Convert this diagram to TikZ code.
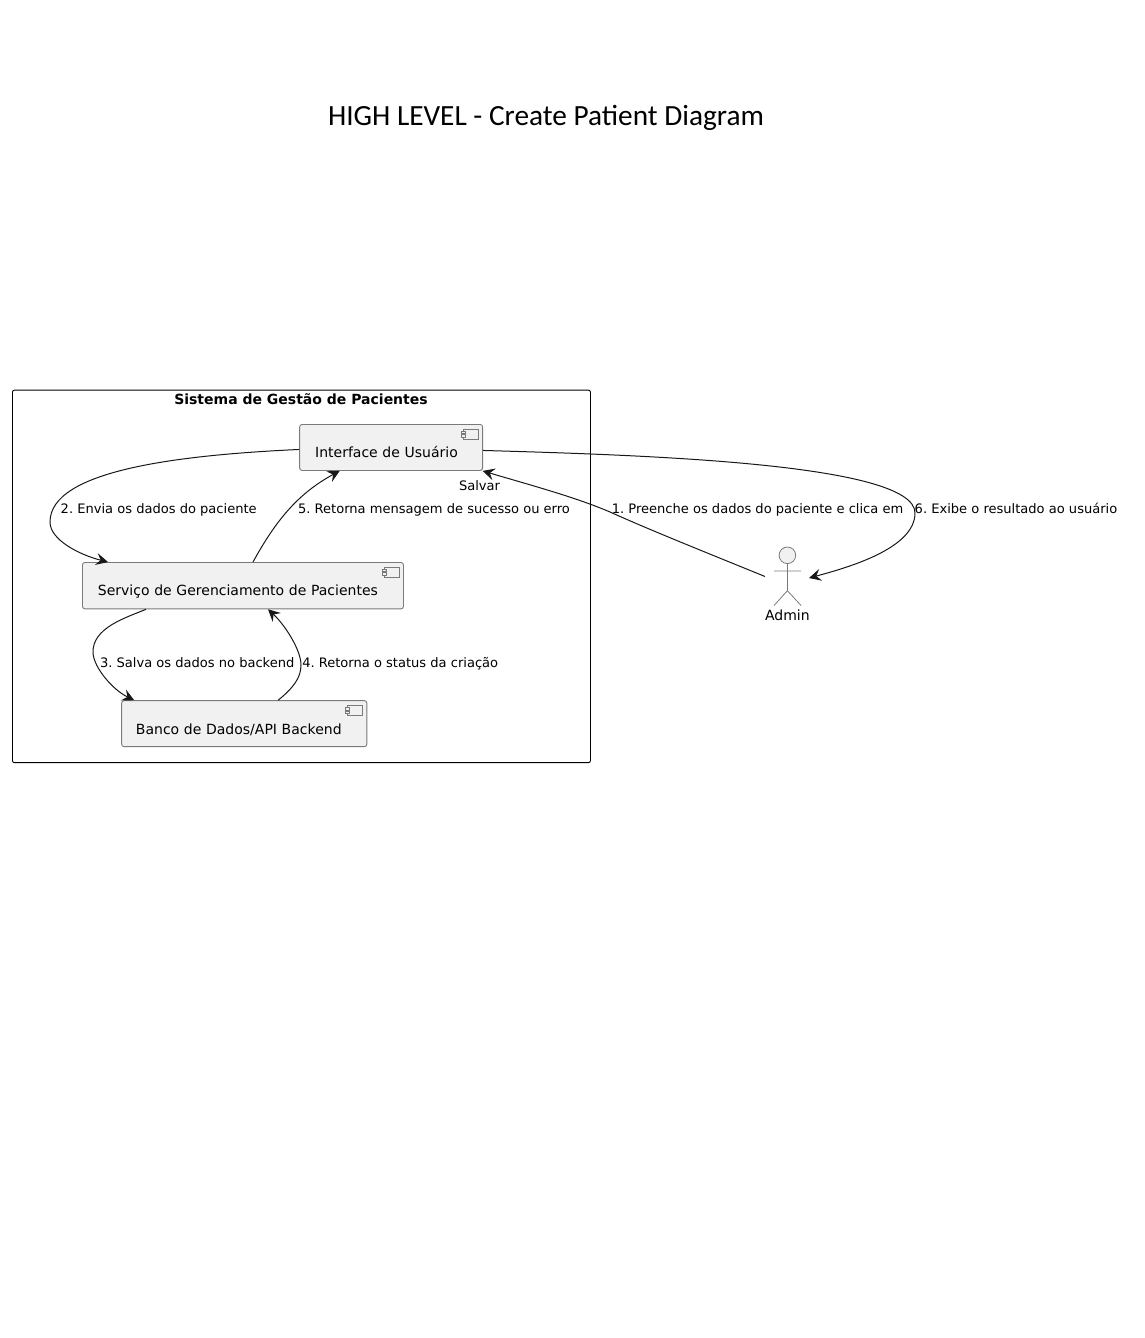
\documentclass[tikz,border=0pt]{standalone}
\usepackage{fontspec}
\setmainfont{DejaVu Sans}
\newfontfamily\titlefont{Carlito}
\usetikzlibrary{arrows.meta,calc,positioning}
\definecolor{umlfill}{HTML}{F1F1F1}
\definecolor{umlline}{HTML}{181818}
\definecolor{umlborder}{HTML}{7A7A7A}
\frenchspacing
\tikzset{
  comp/.style={draw=umlborder,fill=umlfill,line width=0.9pt,rounded corners=2.5pt,anchor=north west,
    inner xsep=15.5pt,inner ysep=0pt,align=left,font=\fontsize{14}{16}\selectfont,text=black,
    text height=26pt,text depth=6pt},
  flow/.style={draw=umlline,line width=1pt,-{Stealth[length=12pt,width=12pt,inset=4.5pt]}},
  lbl/.style={font=\fontsize{13.05}{15}\selectfont,text=black,inner sep=0pt,text height=10pt,text depth=3pt},
  iconline/.style={draw=umlborder,line width=0.8pt,fill=umlfill},
  actorline/.style={draw=umlborder,line width=0.8pt},
}
\newcommand{\compicon}[1]{%
  \draw[iconline] ($(#1.north east)+(-20,5)$) rectangle ($(#1.north east)+(-5,15)$);
  \draw[iconline] ($(#1.north east)+(-22,7.3)$) rectangle ($(#1.north east)+(-18,9.8)$);
  \draw[iconline] ($(#1.north east)+(-22,10.8)$) rectangle ($(#1.north east)+(-18,13.3)$);
}
\begin{document}
\begin{tikzpicture}[x=1pt,y=-1pt]
\useasboundingbox (0,0) rectangle (1144,1338);
\node[font=\titlefont\fontsize{29.3}{34}\selectfont,text=black,inner sep=0pt] (title) at (546,118) {HIGH LEVEL - Create Patient Diagram};
\node[draw=black,line width=0.9pt,rounded corners=2pt,anchor=north west,minimum width=578pt,minimum height=372.5pt,inner sep=0pt] (sys) at (12,389.7) {};
\node[font=\bfseries\fontsize{14}{16}\selectfont,text=black,inner sep=0pt] (systitle) at (301,399) {Sistema de Gestão de Pacientes};
\node[comp,text width=152pt,minimum height=46pt] (ui) at (299.2,424) {Interface de Usuário};
\node[comp,text width=290pt,minimum height=46.4pt] (svc) at (82,562) {Serviço de Gerenciamento de Pacientes};
\node[comp,text width=216.6pt,inner xsep=14.3pt,minimum height=46pt,text height=28pt,text depth=6pt] (db) at (121.2,700.2) {Banco de Dados/API Backend};
\compicon{ui}
\compicon{svc}
\compicon{db}
% actor
\node[inner sep=0pt,minimum width=44pt,minimum height=60pt,anchor=north west] (admin) at (765,547) {};
\draw[actorline,fill=umlfill] (787.4,555.3) circle (8.3);
\draw[actorline] (787.4,563.6) -- (787.4,590.7) (774,571) -- (801,571) (774,605.5) -- (787.4,590.7) -- (801,605.5);
\node[font=\fontsize{14}{16}\selectfont,text=black,inner sep=0pt] (adminlbl) at (787.4,615) {Admin};
% connectors
\draw[flow] ($(admin.north west)+(0,29.5)$) .. controls (700,550) and (650,530) .. (610,512) .. controls (575,497) and (530,485) .. ($(ui.south east)+(-0.5,0)$);
\draw[flow] ($(ui.west)+(0,2)$) .. controls (180,455) and (50,470) .. (50,522) .. controls (50,540) and (80,555) .. ($(svc.north west)+(26,0)$);
\draw[flow] ($(svc.north west)+(171,0)$) .. controls (275,522) and (297,494) .. ($(ui.south west)+(40.5,0)$);
\draw[flow] ($(svc.south west)+(64,0)$) .. controls (125,618) and (92,628) .. (93,653) .. controls (94,668) and (113,690) .. ($(db.north west)+(13,0)$);
\draw[flow] ($(db.north west)+(157,0)$) .. controls (293,688) and (301,678) .. (301,665) .. controls (301,650) and (285,625) .. ($(svc.south west)+(186,0)$);
\draw[flow] ($(ui.east)+(0,3)$) .. controls (640,455) and (915,463) .. (915,513) .. controls (915,548) and (850,567) .. ($(admin.north west)+(44,31)$);
% labels
\node[lbl] (l1) at (757.5,510) {1. Preenche os dados do paciente e clica em};
\node[lbl] (l1b) at (479.5,486.5) {Salvar};
\node[lbl] (l2) at (158.7,510) {2. Envia os dados do paciente};
\node[lbl] (l3) at (197.2,663.5) {3. Salva os dados no backend};
\node[lbl] (l4) at (400.2,663.5) {4. Retorna o status da criação};
\node[lbl] (l5) at (434,510) {5. Retorna mensagem de sucesso ou erro};
\node[lbl] (l6) at (1016,510) {6. Exibe o resultado ao usuário};
\end{tikzpicture}
\end{document}
